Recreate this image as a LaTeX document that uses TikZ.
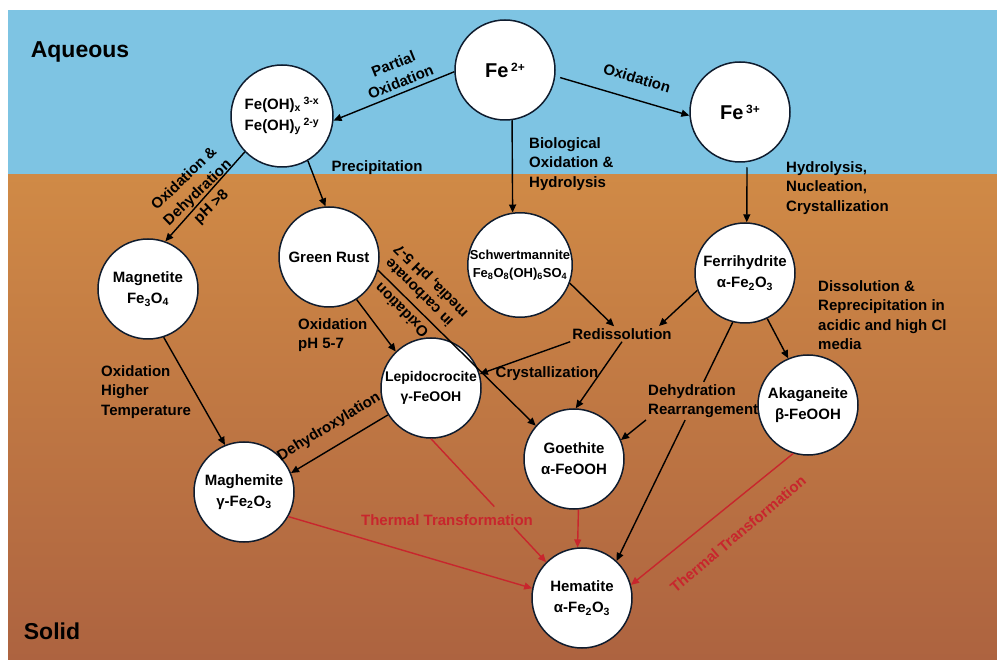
\documentclass[tikz,border=0pt]{standalone}
\usepackage{fontspec}
\setmainfont{Liberation Sans}
\usetikzlibrary{arrows.meta,calc}
\definecolor{aq}{RGB}{126,196,227}
\definecolor{brtop}{RGB}{208,138,70}
\definecolor{brbot}{RGB}{173,99,64}
\definecolor{thred}{RGB}{200,38,45}
\definecolor{rim}{RGB}{15,28,46}
\tikzset{
 mineral/.style={circle, draw=rim, line width=1.5pt, fill=white, minimum size=100pt, inner sep=0pt, align=center, font=\bfseries\fontsize{15}{21}\selectfont},
 lbl/.style={font=\bfseries\fontsize{15}{19.5}\selectfont, inner sep=2pt},
 redlbl/.style={lbl, text=thred},
 heading/.style={font=\bfseries\fontsize{23}{26}\selectfont, inner sep=0pt},
 arr/.style={line width=1.4pt, -{Triangle[length=8pt,width=7pt]}},
 redarr/.style={arr, draw=thred},
 plain/.style={line width=1.4pt},
}
\begin{document}
\begin{tikzpicture}[x=1pt,y=-1pt]
\useasboundingbox (0,0) rectangle (997,660);
\fill[white] (0,0) rectangle (997,660);
\fill[aq] (8,10) rectangle (997,175);
\shade[top color=brtop, bottom color=brbot] (8,175) rectangle (997,660);

\node[heading] (haq) at (80,52) {Aqueous};
\node[heading] (hso) at (52,631) {Solid};

% minerals / species
\node[mineral] (fe2) at (505,70) {{\fontsize{20}{24}\selectfont Fe}\,\raisebox{6pt}{\fontsize{12}{12}\selectfont 2+}};
\node[mineral] (fe3) at (740,112) {{\fontsize{20}{24}\selectfont Fe}\,\raisebox{6pt}{\fontsize{12}{12}\selectfont 3+}};
\node[mineral, minimum size=102pt] (feoh) at (282,116) {Fe(OH)\textsubscript{x}\,\textsuperscript{3-x}\\Fe(OH)\textsubscript{y}\,\textsuperscript{2-y}};
\node[mineral] (mag) at (148,289) {Magnetite\\Fe\textsubscript{3}O\textsubscript{4}};
\node[mineral] (gr) at (329,257) {Green Rust};
\node[mineral, font=\bfseries\fontsize{14}{20}\selectfont] (lep) at (431,388) {Lepidocrocite\\γ-FeOOH};
\node[mineral] (mgh) at (244,492) {Maghemite\\γ-Fe\textsubscript{2}O\textsubscript{3}};
\node[mineral, minimum size=104pt, font=\bfseries\fontsize{13}{18}\selectfont] (sch) at (520,265) {Schwertmannite\\Fe\textsubscript{8}O\textsubscript{8}(OH)\textsubscript{6}SO\textsubscript{4}};
\node[mineral] (fer) at (745,273) {Ferrihydrite\\α-Fe\textsubscript{2}O\textsubscript{3}};
\node[mineral] (aka) at (808,405) {Akaganeite\\β-FeOOH};
\node[mineral] (goe) at (574,459) {Goethite\\α-FeOOH};
\node[mineral] (hem) at (582,598) {Hematite\\α-Fe\textsubscript{2}O\textsubscript{3}};

% labels
\node[lbl, rotate=22, align=center] (lpo) at (397,73) {Partial\\Oxidation};
\node[lbl, rotate=-17] (lox) at (637,78) {Oxidation};
\node[lbl, align=left, anchor=west] (lbio) at (527,164) {Biological\\Oxidation \&\\Hydrolysis};
\node[lbl, align=left, anchor=west] (lhyd) at (784,188) {Hydrolysis,\\Nucleation,\\Crystallization};
\node[lbl] (lpre) at (377,168) {Precipitation};
\node[lbl, rotate=44, align=center] (lodh) at (198,193) {Oxidation \&\\Dehydration\\pH >8};
\node[lbl, align=left, anchor=west] (loht) at (99,392) {Oxidation\\Higher\\Temperature};
\node[lbl, align=left, anchor=west] (lopg) at (296,335) {Oxidation\\pH 5-7};
\node[lbl, rotate=135, align=center, font=\bfseries\fontsize{15}{16.5}\selectfont] (locm) at (417,295) {Oxidation\\[8pt]in carbonate\\media, pH 5-7};
\node[lbl] (lred) at (622,334) {Redissolution};
\node[lbl] (lcry) at (547,374) {Crystallization};
\node[lbl, align=left, anchor=west] (ldis) at (816,315) {Dissolution \&\\Reprecipitation in\\acidic and high Cl\\media};
\node[lbl, rotate=31.5] (ldhx) at (329,427) {Dehydroxylation};
\node[lbl, align=left, anchor=west] (ldr) at (646,401) {Dehydration\\Rearrangement};
\node[redlbl] (ltt1) at (447,520) {Thermal Transformation};
\node[redlbl, rotate=40] (ltt2) at (738,534) {Thermal Transformation};

% connectors
\draw[arr] (fe2.182) -- (feoh.-5);
\draw[arr, shorten <=5pt] (fe2.-7) -- (fe3.184);
\draw[arr] (fe2.-82) -- (sch.98);
\draw[arr, shorten <=5pt] (fe3.-82) -- (fer.88);
\draw[arr] (feoh.224) -- (mag.70);
\draw[arr] (feoh.-60) -- (gr.94);
\draw[arr] (mag.-72) -- (mgh.112);
\draw[arr] (gr.-57) -- (lep.134);
\draw[arr] (gr.-15) -- (goe.139);
\draw[arr] (sch.-20) -- (lred);
\draw[arr] (fer.200) -- ($(lred.center)+(37,-8)$);
\draw[arr] (lred.south west) -- (lep.16);
\draw[arr] (lred.south) -- (goe.88);
\path (fer.-104) -- (hem.47) coordinate[pos=0.25] (g1) coordinate[pos=0.41] (g2);
\draw[plain] (fer.-104) -- (g1);
\draw[arr] (g2) -- (hem.47);
\draw[arr] (ldr.south west) -- (goe.22);
\draw[arr] (fer.-64) -- (aka.113);
\draw[arr] (lep.212) -- (mgh.22);
\path (lep.-90) -- (hem.135) coordinate[pos=0.55] (t1) coordinate[pos=0.72] (t2);
\draw[plain, draw=thred] (lep.-90) -- (t1);
\draw[redarr] (t2) -- (hem.135);
\draw[redarr] (goe.-85) -- (hem.95);
\draw[redarr] (mgh.-29) -- (hem.169);
\draw[redarr] (aka.-107) -- (hem.15);
\end{tikzpicture}
\end{document}
